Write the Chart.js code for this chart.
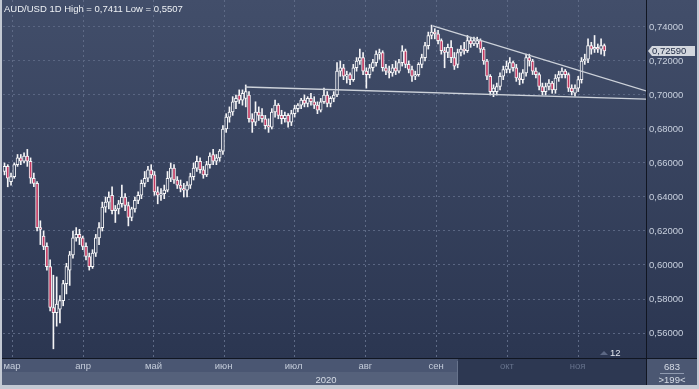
<!DOCTYPE html>
<html>
<head>
<meta charset="utf-8">
<script src="https://cdn.jsdelivr.net/npm/chart.js@4.4.0/dist/chart.umd.min.js"></script>
<style>
  html, body { margin: 0; padding: 0; background: #c3c9d3; }
  #wrap { width: 699px; height: 389px; }
</style>
</head>
<body>
<div id="wrap"><canvas id="c" width="699" height="389"></canvas></div>
<script>
// AUD/USD дневные свечи (фев - ноя 2020)
const opens = [
  .655,.658,.649,.652,.659,.663,.661,.664,.661,.651,
  .648,.622,.617,.611,.599,.575,.572,.574,.579,.589,
  .597,.606,.616,.618,.616,.611,.605,.599,.607,.616,
  .622,.634,.637,.641,.632,.633,.636,.640,.635,.628,
  .633,.638,.641,.648,.651,.656,.653,.643,.641,.642,
  .644,.651,.657,.650,.647,.645,.644,.647,.652,.657,
  .661,.656,.653,.659,.665,.661,.663,.667,.680,.687,
  .690,.696,.700,.697,.698,.700,.686,.684,.690,.688,
  .686,.682,.681,.690,.694,.688,.686,.688,.684,.689,
  .692,.694,.697,.695,.698,.696,.694,.691,.696,.700,
  .695,.698,.700,.714,.716,.711,.712,.709,.716,.720,
  .722,.714,.712,.716,.719,.724,.725,.716,.714,.713,
  .716,.714,.719,.726,.718,.715,.711,.712,.718,.722,
  .729,.735,.737,.736,.732,.726,.725,.728,.722,.718,
  .725,.727,.726,.732,.730,.730,.732,.727,.720,.711,
  .702,.702,.705,.711,.715,.715,.719,.716,.710,.709,
  .713,.722,.720,.714,.712,.705,.702,.705,.707,.703,
  .710,.712,.714,.712,.704,.701,.704,.709,.720,.721,
  .729,.727,.728,.727,.729
];
const highs = [
  .660,.659,.654,.660,.665,.665,.666,.668,.663,.654,
  .649,.626,.620,.613,.603,.594,.593,.582,.591,.601,
  .608,.620,.622,.621,.617,.613,.607,.609,.618,.625,
  .637,.640,.643,.646,.635,.638,.647,.642,.637,.634,
  .640,.643,.650,.655,.658,.659,.655,.646,.645,.647,
  .655,.660,.659,.652,.650,.648,.649,.654,.660,.664,
  .663,.658,.661,.666,.668,.665,.668,.682,.689,.693,
  .699,.700,.703,.703,.7059,.702,.689,.696,.693,.692,
  .688,.686,.692,.697,.695,.691,.690,.689,.691,.694,
  .695,.698,.700,.699,.701,.699,.696,.698,.704,.702,
  .699,.702,.719,.720,.718,.714,.713,.718,.722,.727,
  .725,.716,.718,.721,.726,.727,.726,.718,.717,.718,
  .720,.721,.729,.727,.720,.717,.714,.719,.724,.731,
  .737,.7411,.739,.738,.733,.728,.730,.732,.725,.727,
  .729,.731,.735,.734,.734,.734,.733,.728,.721,.712,
  .706,.707,.713,.717,.720,.722,.720,.718,.713,.715,
  .724,.724,.721,.716,.713,.707,.707,.709,.708,.712,
  .714,.716,.715,.713,.706,.706,.711,.722,.724,.733,
  .731,.735,.730,.733,.730
];
const lows = [
  .653,.646,.647,.651,.658,.659,.660,.658,.648,.646,
  .620,.612,.609,.597,.573,.5507,.564,.566,.576,.583,
  .588,.604,.614,.612,.609,.603,.597,.598,.605,.612,
  .620,.631,.633,.630,.625,.630,.634,.632,.623,.626,
  .631,.636,.639,.646,.649,.651,.641,.636,.638,.639,
  .643,.649,.648,.645,.643,.640,.640,.645,.650,.655,
  .654,.651,.652,.657,.659,.659,.661,.665,.678,.684,
  .688,.692,.695,.694,.693,.684,.678,.682,.685,.684,
  .680,.678,.680,.687,.686,.683,.684,.681,.682,.687,
  .690,.692,.693,.693,.694,.692,.689,.690,.695,.693,
  .693,.696,.699,.711,.709,.707,.706,.708,.714,.718,
  .712,.704,.710,.714,.717,.721,.714,.712,.710,.711,
  .712,.713,.717,.716,.713,.708,.709,.711,.716,.720,
  .727,.733,.733,.730,.724,.716,.722,.719,.715,.716,
  .723,.724,.725,.728,.729,.728,.725,.718,.709,.700,
  .699,.700,.703,.709,.713,.713,.714,.708,.706,.707,
  .711,.717,.712,.710,.703,.700,.700,.703,.701,.701,
  .708,.710,.710,.702,.700,.6993,.702,.707,.718,.719,
  .724,.725,.725,.724,.723
];
const closes = [
  .658,.651,.652,.659,.663,.661,.664,.661,.651,.648,
  .622,.621,.611,.599,.575,.572,.577,.579,.589,.599,
  .606,.616,.618,.616,.611,.605,.599,.607,.616,.622,
  .634,.637,.640,.632,.633,.636,.640,.635,.628,.633,
  .638,.641,.648,.651,.656,.653,.643,.641,.642,.644,
  .651,.657,.650,.647,.645,.644,.647,.652,.657,.661,
  .656,.653,.659,.664,.661,.663,.667,.680,.687,.690,
  .696,.698,.697,.701,.702,.686,.684,.690,.688,.686,
  .682,.681,.690,.694,.688,.686,.688,.684,.689,.692,
  .694,.697,.695,.698,.696,.694,.691,.696,.700,.695,
  .698,.700,.714,.716,.711,.712,.709,.716,.720,.722,
  .714,.712,.716,.719,.724,.725,.716,.714,.713,.716,
  .714,.719,.726,.718,.715,.711,.712,.718,.722,.729,
  .735,.737,.736,.732,.726,.725,.728,.722,.717,.725,
  .727,.726,.732,.730,.732,.732,.727,.720,.711,.702,
  .704,.705,.711,.715,.717,.719,.716,.710,.709,.713,
  .722,.720,.714,.712,.705,.702,.705,.707,.703,.710,
  .712,.714,.712,.704,.702,.704,.709,.720,.721,.729,
  .727,.728,.727,.729,.7259
];

// подписи месяцев и их положение (в номерах свечей)
const monthLabels = ['мар', 'апр', 'май', 'июн', 'июл', 'авг', 'сен', 'окт', 'ноя'];
const monthPos = [2.3, 24.1, 45.7, 67.2, 88.7, 110.7, 132.4, 154.1, 175.8];
const priceTicks = [0.56, 0.58, 0.60, 0.62, 0.64, 0.66, 0.68, 0.70, 0.72, 0.74];

// трендовые линии: [номер свечи, цена]
const supportLine = [[73.8, 0.7047], [196.8, 0.6976]];
const resistLine = [[131.4, 0.7406], [196.8, 0.7024]];
const lastPrice = 0.7259;

const canvas = document.getElementById('c');
const ctx0 = canvas.getContext('2d');
const bgGrad = ctx0.createLinearGradient(0, 0, 0, 358);
bgGrad.addColorStop(0, '#424e6a');
bgGrad.addColorStop(1, '#2b3651');

const fmt = v => v.toFixed(5).replace('.', ',');
const FONT = 'Liberation Sans, Arial, sans-serif';

const wicks = lows.map((l, i) => ({ x: i, y: [l, highs[i]] }));
const bodies = opens.map((o, i) => ({ x: i, y: [o, closes[i]] }));
const bodyColors = opens.map((o, i) => closes[i] < o ? '#c23a62' : bgGrad);

const noPad = s => { s.paddingTop = 0; s.paddingBottom = 0; s.paddingLeft = 0; s.paddingRight = 0; };

const frame = {
  id: 'frame',
  beforeDraw(chart) {
    const c = chart.ctx;
    c.save();
    c.fillStyle = '#c3c9d3';
    c.fillRect(0, 0, 699, 389);
    c.fillStyle = bgGrad;
    c.fillRect(2, 0, 695, 358);
    // нижние полосы шкалы времени
    c.fillStyle = '#4a5672';
    c.fillRect(2, 359, 645, 13);
    c.fillStyle = '#55617b';
    c.fillRect(2, 372, 645, 13);
    c.fillStyle = '#2d3852';
    c.fillRect(458, 359, 188, 26);
    c.fillStyle = '#67738c';
    c.fillRect(457, 361, 1, 24);
    // правый нижний блок
    c.fillStyle = '#4b5772';
    c.fillRect(647, 359, 50, 26);
    c.fillStyle = '#111622';
    c.fillRect(646, 0, 1, 385);
    c.fillRect(2, 358, 695, 1);

    // вертикальная сетка по месяцам
    const xs = chart.scales.x;
    c.strokeStyle = '#5e6a86';
    c.lineWidth = 1;
    c.setLineDash([2, 3]);
    monthPos.forEach(v => {
      const px = Math.round(xs.getPixelForValue(v)) + 0.5;
      c.beginPath();
      c.moveTo(px, 0);
      c.lineTo(px, 358);
      c.stroke();
    });
    c.restore();
  },
  afterDraw(chart) {
    const c = chart.ctx;
    c.save();
    c.textBaseline = 'middle';
    c.font = '9.5px ' + FONT;
    c.fillStyle = '#eef1f5';
    c.textAlign = 'left';
    c.fillText('AUD/USD 1D High = 0,7411 Low = 0,5507', 4, 9);

    // метка последней цены
    const y = chart.scales.y.getPixelForValue(lastPrice);
    c.fillStyle = '#d3d7de';
    c.beginPath();
    c.moveTo(648, y);
    c.lineTo(652, y - 5);
    c.lineTo(695, y - 5);
    c.lineTo(695, y + 5);
    c.lineTo(652, y + 5);
    c.closePath();
    c.fill();
    c.fillStyle = '#1e2a44';
    c.fillText(fmt(lastPrice), 652, y + 0.5);

    // год
    c.fillStyle = '#d6dce6';
    c.textAlign = 'center';
    c.fillText('2020', 326, 380);

    // правый нижний блок
    c.fillText('683', 672, 367);
    c.fillStyle = '#8f9ab0';
    c.fillRect(660, 373, 24, 1);
    c.fillStyle = '#d6dce6';
    c.fillText('>199<', 672, 380);

    // маркер "12"
    c.fillStyle = '#5c6884';
    c.beginPath();
    c.moveTo(600, 355);
    c.lineTo(604, 351);
    c.lineTo(608, 355);
    c.closePath();
    c.fill();
    c.fillStyle = '#e3e7ee';
    c.textAlign = 'left';
    c.fillText('12', 610, 353);
    c.restore();
  }
};

new Chart(canvas, {
  type: 'bar',
  data: {
    datasets: [
      {
        label: 'resist',
        type: 'line',
        data: resistLine.map(p => ({ x: p[0], y: p[1] })),
        borderColor: '#cdd2da',
        borderWidth: 1.3,
        pointRadius: 0,
        order: 0
      },
      {
        label: 'support',
        type: 'line',
        data: supportLine.map(p => ({ x: p[0], y: p[1] })),
        borderColor: '#cdd2da',
        borderWidth: 1.3,
        pointRadius: 0,
        order: 0
      },
      {
        label: 'bodies',
        data: bodies,
        backgroundColor: bodyColors,
        borderColor: '#f4f4f6',
        borderWidth: 1,
        borderSkipped: false,
        barThickness: 3,
        grouped: false,
        order: 1
      },
      {
        label: 'wicks',
        data: wicks,
        backgroundColor: '#f4f4f6',
        borderWidth: 0,
        barThickness: 1,
        grouped: false,
        order: 2
      }
    ]
  },
  options: {
    responsive: false,
    animation: false,
    devicePixelRatio: 1,
    layout: { padding: { left: 3, top: 3, right: 0, bottom: 0 } },
    plugins: {
      legend: { display: false },
      tooltip: { enabled: false }
    },
    scales: {
      x: {
        type: 'linear',
        offset: false,
        min: -0.46,
        max: 196.78,
        afterBuildTicks: s => { s.ticks = monthPos.map(v => ({ value: v })); },
        afterFit: s => { s.height = 31; noPad(s); },
        grid: { display: false, drawTicks: false },
        border: { display: false },
        ticks: {
          autoSkip: false,
          maxRotation: 0,
          padding: 3,
          font: { family: FONT, size: 9.5 },
          color: c => c.index >= 7 ? '#66728c' : '#c4ccda',
          callback: (v, i) => monthLabels[i]
        }
      },
      y: {
        position: 'right',
        min: 0.5453,
        max: 0.7541,
        afterBuildTicks: s => { s.ticks = priceTicks.map(v => ({ value: v })); },
        afterFit: s => { s.width = 53; noPad(s); },
        grid: { color: '#5a6682', drawTicks: false },
        border: { display: false, dash: [2, 3] },
        ticks: {
          padding: 3,
          font: { family: FONT, size: 9.5 },
          color: '#c8d0de',
          callback: v => fmt(v)
        }
      }
    }
  },
  plugins: [frame]
});
</script>
</body>
</html>
